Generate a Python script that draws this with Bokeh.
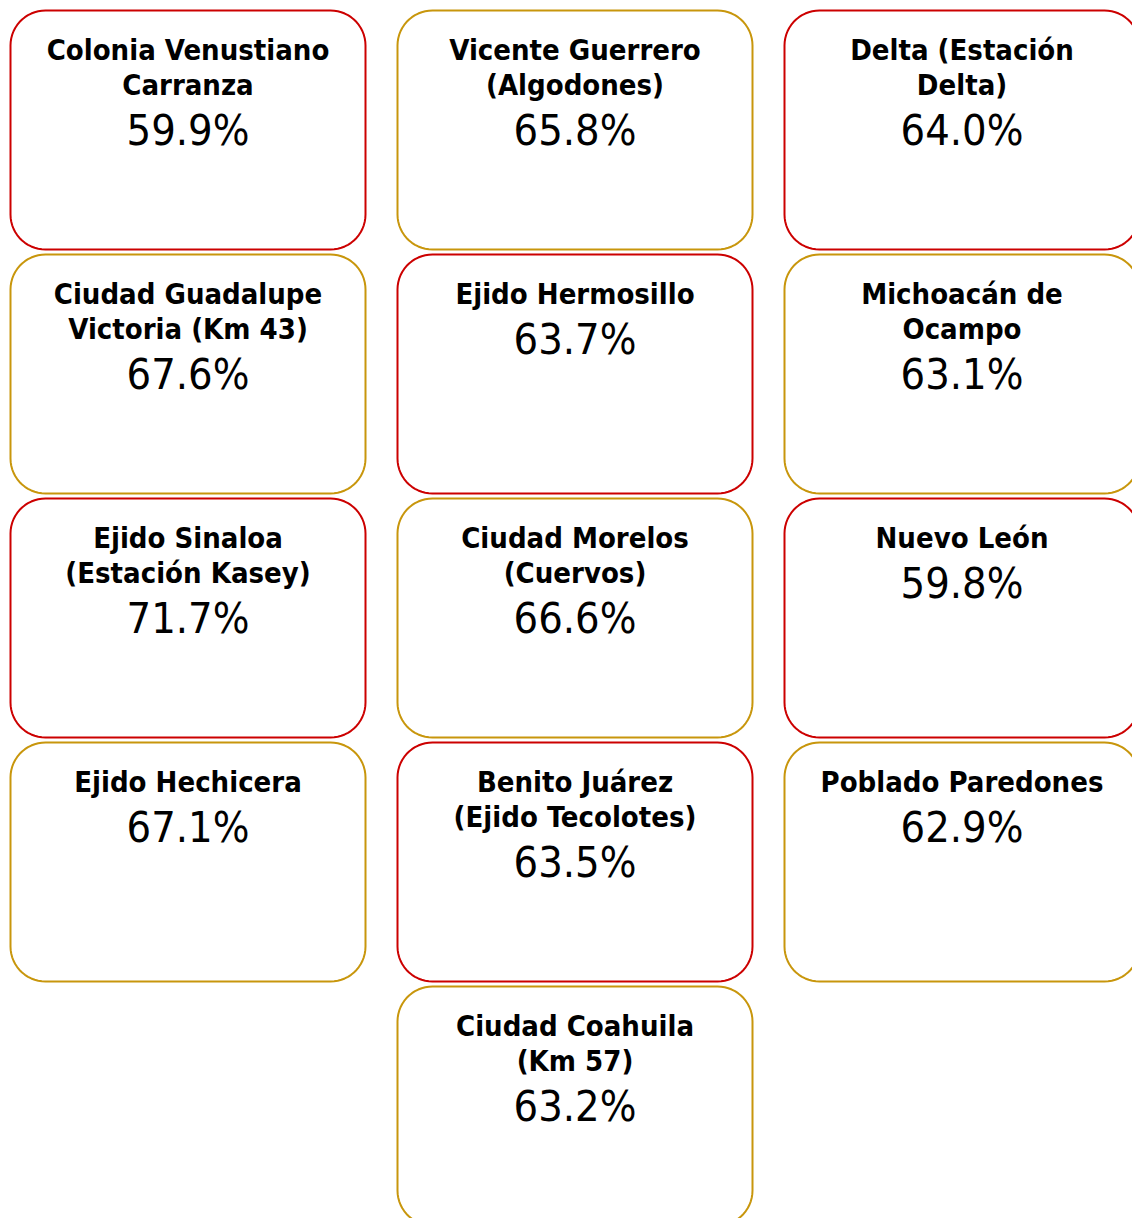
import numpy as np
from bokeh.plotting import figure
from bokeh.models import ColumnDataSource, Range1d
from bokeh.core.properties import value
from bokeh.embed import file_html
from bokeh.resources import INLINE

# ---- data ----
names = [
    "Colonia Venustiano\nCarranza",
    "Vicente Guerrero\n(Algodones)",
    "Delta (Estación\nDelta)",
    "Ciudad Guadalupe\nVictoria (Km 43)",
    "Ejido Hermosillo",
    "Michoacán de\nOcampo",
    "Ejido Sinaloa\n(Estación Kasey)",
    "Ciudad Morelos\n(Cuervos)",
    "Nuevo León",
    "Ejido Hechicera",
    "Benito Juárez\n(Ejido Tecolotes)",
    "Poblado Paredones",
    "Ciudad Coahuila\n(Km 57)",
]
values = [59.9, 65.8, 64.0, 67.6, 63.7, 63.1, 71.7, 66.6, 59.8, 67.1, 63.5, 62.9, 63.2]
border_kind = ["red", "gold", "red", "gold", "red", "gold", "red", "gold",
               "red", "gold", "red", "gold", "gold"]

# ---- style / layout ----
COLORS = {"red": "#CC0000", "gold": "#C8960C"}
W, H = 1132, 1218
NCOL = 3
CARD_W, CARD_H = 355, 239
PITCH_X, PITCH_Y = 387, 244
X0, Y0 = 10, 10
RADIUS = 35
TITLE_FONT = "DejaVu Sans Condensed"
TITLE_SIZE = 29
TITLE_LH = 35
VALUE_SIZE = 43
FIRST_BASE = 39
VALUE_GAP = 45


def rounded_rect(x, y, w, h, r, n=16):
    xs, ys = [], []
    corners = [
        (x + w - r, y + r, -np.pi / 2, 0),        # top-right
        (x + w - r, y + h - r, 0, np.pi / 2),     # bottom-right
        (x + r, y + h - r, np.pi / 2, np.pi),     # bottom-left
        (x + r, y + r, np.pi, 1.5 * np.pi),       # top-left
    ]
    for cx, cy, a0, a1 in corners:
        t = np.linspace(a0, a1, n)
        xs.extend(cx + r * np.cos(t))
        ys.extend(cy + r * np.sin(t))
    xs.append(xs[0]); ys.append(ys[0])
    return xs, ys


n = len(names)
lefts, tops = [], []
for i in range(n):
    row, col = divmod(i, NCOL)
    in_row = min(NCOL, n - row * NCOL)
    offset = (NCOL - in_row) / 2.0
    lefts.append(X0 + (col + offset) * PITCH_X)
    tops.append(Y0 + row * PITCH_Y)

pxs, pys = [], []
for l, t in zip(lefts, tops):
    a, b = rounded_rect(l, t, CARD_W, CARD_H, RADIUS)
    pxs.append(a); pys.append(b)

card_src = ColumnDataSource(dict(xs=pxs, ys=pys,
                                 color=[COLORS[k] for k in border_kind]))

tx, ty, tt = [], [], []
vx, vy, vt = [], [], []
for i in range(n):
    cx = lefts[i] + CARD_W / 2.0
    lines = names[i].split("\n")
    for j, ln in enumerate(lines):
        tx.append(cx)
        ty.append(tops[i] + FIRST_BASE + j * TITLE_LH)
        tt.append(ln)
    vx.append(cx)
    vy.append(tops[i] + FIRST_BASE + (len(lines) - 1) * TITLE_LH + VALUE_GAP)
    vt.append(f"{values[i]:.1f}%")

title_src = ColumnDataSource(dict(x=tx, y=ty, text=tt))
value_src = ColumnDataSource(dict(x=vx, y=vy, text=vt))

p = figure(width=W, height=H, x_range=Range1d(0, W), y_range=Range1d(H, 0),
           output_backend="svg", toolbar_location=None,
           min_border=0, min_border_left=0, min_border_right=0,
           min_border_top=0, min_border_bottom=0)
p.axis.visible = False
p.grid.visible = False
p.outline_line_color = None
p.background_fill_color = "white"
p.border_fill_color = "white"

p.patches("xs", "ys", source=card_src, fill_color="white",
          line_color="color", line_width=2)
p.text("x", "y", text="text", source=title_src,
       text_font=value(TITLE_FONT), text_font_style="bold",
       text_font_size=f"{TITLE_SIZE}px", text_align="center",
       text_baseline="alphabetic", text_color="black")
p.text("x", "y", text="text", source=value_src,
       text_font=value(TITLE_FONT), text_font_style="normal",
       text_font_size=f"{VALUE_SIZE}px", text_align="center",
       text_baseline="alphabetic", text_color="black")

open("out.html", "w").write(file_html(p, INLINE))
